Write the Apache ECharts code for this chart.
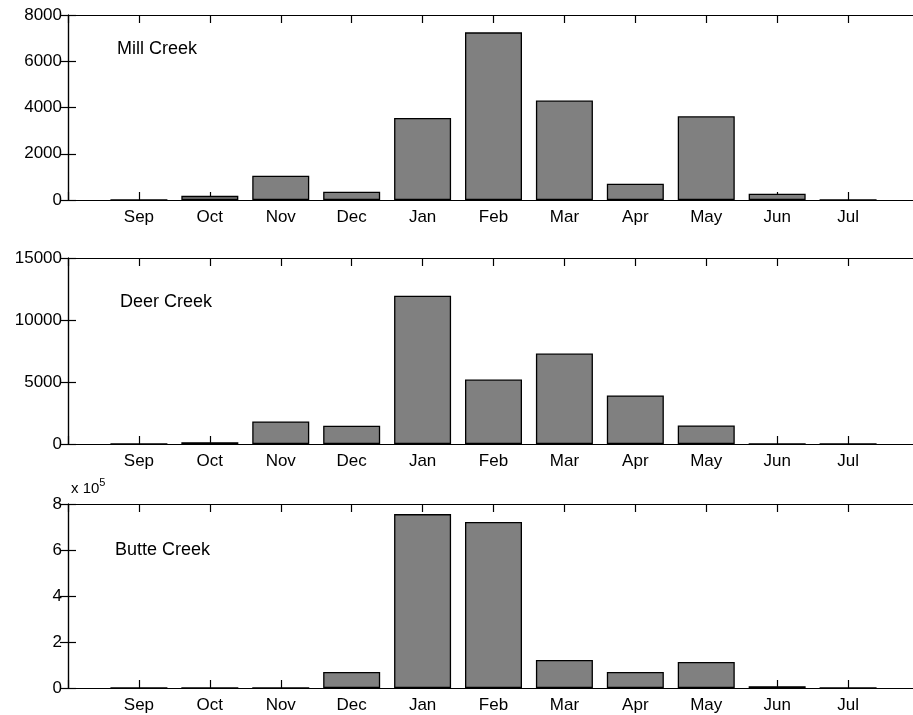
<!DOCTYPE html>
<html>
<head>
<meta charset="utf-8">
<script src="https://cdn.jsdelivr.net/npm/echarts@6/dist/echarts.min.js"></script>
<style>
html,body{margin:0;padding:0;background:#fff;}
#c{width:913px;height:715px;}
</style>
</head>
<body>
<div id="c"></div>
<script>
var months = ['Sep','Oct','Nov','Dec','Jan','Feb','Mar','Apr','May','Jun','Jul'];
var millCreek  = [0, 180, 1050, 360, 3550, 7250, 4300, 700, 3620, 270, 0];
var deerCreek  = [0, 150, 1820, 1470, 11950, 5200, 7300, 3920, 1500, 0, 0];
var butteCreek = [0, 0, 0, 70000, 756000, 722000, 122000, 70000, 113000, 8000, 0];
var panelNames = ['Mill Creek', 'Deer Creek', 'Butte Creek'];
var yMax = [8000, 15000, 800000];
var yStep = [2000, 5000, 200000];

var FONT = 'Liberation Sans';
var FS = 17;
var chart = echarts.init(document.getElementById('c'), null, {renderer:'canvas'});

var grids = [
  {left:68, top:15, width:851, height:185, outerBoundsMode:'none', containLabel:false},
  {left:68, top:258, width:851, height:186, outerBoundsMode:'none', containLabel:false},
  {left:68, top:504, width:851, height:184, outerBoundsMode:'none', containLabel:false}
];
var seriesData = [millCreek, deerCreek, butteCreek];

var xAxes = [], yAxes = [], series = [];
grids.forEach(function(g, i){
  var base = {
    type:'value', gridIndex:i, min:0, max:months.length+1, interval:1,
    axisLine:{show:true, onZero:false, lineStyle:{color:'#000', width:1.2}},
    axisTick:{show:true, inside:true, length:8, lineStyle:{color:'#000', width:1.2}},
    splitLine:{show:false}
  };
  xAxes.push(Object.assign({}, base, {
    position:'bottom',
    axisLabel:{show:true, color:'#000', fontFamily:FONT, fontSize:FS, margin:9,
      formatter:function(v){ return months[v-1] || ''; }}
  }));
  xAxes.push(Object.assign({}, base, {position:'top', axisLabel:{show:false}}));
  var ybase = {
    type:'value', gridIndex:i, min:0, max:yMax[i], interval:yStep[i],
    axisLine:{show:true, lineStyle:{color:'#000', width:1.2}},
    axisTick:{show:true, inside:true, length:8, lineStyle:{color:'#000', width:1.2}},
    splitLine:{show:false}
  };
  yAxes.push(Object.assign({}, ybase, {
    position:'left',
    axisLabel:{show:true, color:'#000', fontFamily:FONT, fontSize:FS, margin:6,
      formatter: i===2 ? function(v){ return String(v/100000); } : function(v){ return String(v); }}
  }));
  yAxes.push(Object.assign({}, ybase, {position:'right', axisLabel:{show:false}}));
  series.push({
    type:'bar', xAxisIndex:i*2, yAxisIndex:i*2, barWidth:57,
    itemStyle:{color:'#808080', borderColor:'#000', borderWidth:1.3},
    data: seriesData[i].map(function(v, k){ return [k+1, v]; }),
    animation:false, silent:true
  });
});

var graphics = [
  {type:'text', left:117, top:40, style:{text:panelNames[0], font:'18px "'+FONT+'"', fill:'#000'}},
  {type:'text', left:120, top:293, style:{text:panelNames[1], font:'18px "'+FONT+'"', fill:'#000'}},
  {type:'text', left:115, top:541, style:{text:panelNames[2], font:'18px "'+FONT+'"', fill:'#000'}},
  {type:'text', left:71, top:477, style:{
    text:'{a|x 10}{b|5}', fill:'#000',
    rich:{a:{fontFamily:FONT, fontSize:15, fill:'#000', verticalAlign:'bottom'},
          b:{fontFamily:FONT, fontSize:11, fill:'#000', verticalAlign:'top', padding:[0,0,8,0]}}
  }}
];

chart.setOption({
  animation:false,
  backgroundColor:'#fff',
  grid:grids,
  xAxis:xAxes,
  yAxis:yAxes,
  series:series,
  graphic:graphics
});
</script>
</body>
</html>
